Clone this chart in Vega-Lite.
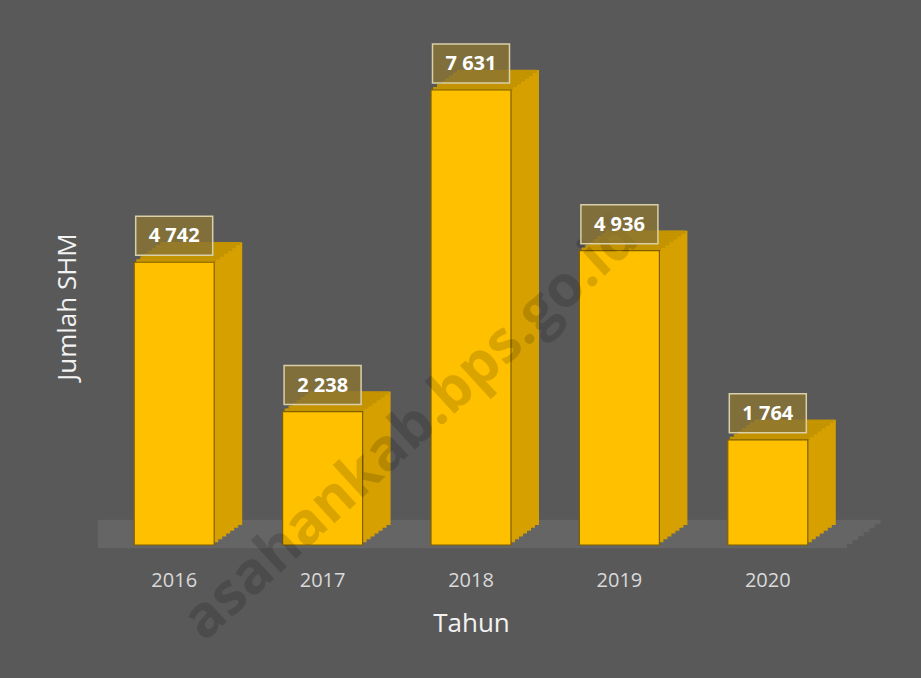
{
  "$schema": "https://vega.github.io/schema/vega-lite/v6.json",
  "width": 742,
  "height": 477,
  "autosize": "none",
  "padding": {"left": 100, "top": 68, "right": 79, "bottom": 133},
  "background": "#595959",
  "config": {
    "view": {"stroke": null},
    "font": "Open Sans",
    "locale": {"number": {"decimal": ",", "thousands": " ", "grouping": [3], "currency": ["", ""]}},
    "scale": {"bandPaddingInner": 0.461, "bandPaddingOuter": 0.2305},
    "axisX": {"domain": false, "ticks": false, "grid": false, "labelAngle": 0, "labelColor": "#d9d9d9", "labelFontSize": 20, "labelPadding": 25, "titleColor": "#f2f2f2", "titleFontSize": 26, "titleFontWeight": "normal", "titlePadding": 20},
    "axisY": {"domain": false, "ticks": false, "grid": false, "labels": false, "titleColor": "#f2f2f2", "titleFontSize": 26, "titleFontWeight": "normal", "titlePadding": 20}
  },
  "data": {"values": [
    {"Tahun": "2016", "Jumlah SHM": 4742},
    {"Tahun": "2017", "Jumlah SHM": 2238},
    {"Tahun": "2018", "Jumlah SHM": 7631},
    {"Tahun": "2019", "Jumlah SHM": 4936},
    {"Tahun": "2020", "Jumlah SHM": 1764}
  ]},
  "layer": [
    {"data": {"values": [{}]}, "mark": {"type": "rule", "color": "#656565", "strokeWidth": 4.3, "strokeCap": "square", "xOffset": 36.4, "yOffset": -23}, "encoding": {"y": {"datum": 0, "scale": {"domain": [0, 8000]}}}},
    {"data": {"values": [{}]}, "mark": {"type": "rule", "color": "#656565", "strokeWidth": 4.3, "strokeCap": "square", "xOffset": 30.8, "yOffset": -19}, "encoding": {"y": {"datum": 0}}},
    {"data": {"values": [{}]}, "mark": {"type": "rule", "color": "#656565", "strokeWidth": 4.3, "strokeCap": "square", "xOffset": 25.2, "yOffset": -15}, "encoding": {"y": {"datum": 0}}},
    {"data": {"values": [{}]}, "mark": {"type": "rule", "color": "#656565", "strokeWidth": 4.3, "strokeCap": "square", "xOffset": 19.6, "yOffset": -11}, "encoding": {"y": {"datum": 0}}},
    {"data": {"values": [{}]}, "mark": {"type": "rule", "color": "#656565", "strokeWidth": 4.3, "strokeCap": "square", "xOffset": 14, "yOffset": -7}, "encoding": {"y": {"datum": 0}}},
    {"data": {"values": [{}]}, "mark": {"type": "rule", "color": "#656565", "strokeWidth": 4.3, "strokeCap": "square", "xOffset": 8.4, "yOffset": -3}, "encoding": {"y": {"datum": 0}}},
    {"data": {"values": [{}]}, "mark": {"type": "rule", "color": "#656565", "strokeWidth": 4.3, "strokeCap": "square", "xOffset": 2.8, "yOffset": 1}, "encoding": {"y": {"datum": 0}}},

    {"mark": {"type": "bar", "size": 80, "color": "#D6A000", "xOffset": 28, "yOffset": -20}, "encoding": {"x": {"field": "Tahun", "type": "ordinal"}, "y": {"field": "Jumlah SHM", "type": "quantitative", "scale": {"domain": [0, 8000]}}}},
    {"mark": {"type": "bar", "size": 80, "color": "#D6A000", "xOffset": 24, "yOffset": -17.14}, "encoding": {"x": {"field": "Tahun", "type": "ordinal"}, "y": {"field": "Jumlah SHM", "type": "quantitative"}}},
    {"mark": {"type": "bar", "size": 80, "color": "#D6A000", "xOffset": 20, "yOffset": -14.29}, "encoding": {"x": {"field": "Tahun", "type": "ordinal"}, "y": {"field": "Jumlah SHM", "type": "quantitative"}}},
    {"mark": {"type": "bar", "size": 80, "color": "#D6A000", "xOffset": 16, "yOffset": -11.43}, "encoding": {"x": {"field": "Tahun", "type": "ordinal"}, "y": {"field": "Jumlah SHM", "type": "quantitative"}}},
    {"mark": {"type": "bar", "size": 80, "color": "#D6A000", "xOffset": 12, "yOffset": -8.57}, "encoding": {"x": {"field": "Tahun", "type": "ordinal"}, "y": {"field": "Jumlah SHM", "type": "quantitative"}}},
    {"mark": {"type": "bar", "size": 80, "color": "#D6A000", "xOffset": 8, "yOffset": -5.71}, "encoding": {"x": {"field": "Tahun", "type": "ordinal"}, "y": {"field": "Jumlah SHM", "type": "quantitative"}}},
    {"mark": {"type": "bar", "size": 80, "color": "#D6A000", "xOffset": 4, "yOffset": -2.86}, "encoding": {"x": {"field": "Tahun", "type": "ordinal"}, "y": {"field": "Jumlah SHM", "type": "quantitative"}}},

    {"mark": {"type": "tick", "size": 80, "thickness": 3.2, "opacity": 1, "color": "#C39300", "xOffset": 26, "yOffset": -18.57}, "encoding": {"x": {"field": "Tahun", "type": "ordinal"}, "y": {"field": "Jumlah SHM", "type": "quantitative"}}},
    {"mark": {"type": "tick", "size": 80, "thickness": 3.2, "opacity": 1, "color": "#C39300", "xOffset": 22, "yOffset": -15.71}, "encoding": {"x": {"field": "Tahun", "type": "ordinal"}, "y": {"field": "Jumlah SHM", "type": "quantitative"}}},
    {"mark": {"type": "tick", "size": 80, "thickness": 3.2, "opacity": 1, "color": "#C39300", "xOffset": 18, "yOffset": -12.86}, "encoding": {"x": {"field": "Tahun", "type": "ordinal"}, "y": {"field": "Jumlah SHM", "type": "quantitative"}}},
    {"mark": {"type": "tick", "size": 80, "thickness": 3.2, "opacity": 1, "color": "#C39300", "xOffset": 14, "yOffset": -10}, "encoding": {"x": {"field": "Tahun", "type": "ordinal"}, "y": {"field": "Jumlah SHM", "type": "quantitative"}}},
    {"mark": {"type": "tick", "size": 80, "thickness": 3.2, "opacity": 1, "color": "#C39300", "xOffset": 10, "yOffset": -7.14}, "encoding": {"x": {"field": "Tahun", "type": "ordinal"}, "y": {"field": "Jumlah SHM", "type": "quantitative"}}},
    {"mark": {"type": "tick", "size": 80, "thickness": 3.2, "opacity": 1, "color": "#C39300", "xOffset": 6, "yOffset": -4.29}, "encoding": {"x": {"field": "Tahun", "type": "ordinal"}, "y": {"field": "Jumlah SHM", "type": "quantitative"}}},
    {"mark": {"type": "tick", "size": 80, "thickness": 3.2, "opacity": 1, "color": "#C39300", "xOffset": 2, "yOffset": -1.43}, "encoding": {"x": {"field": "Tahun", "type": "ordinal"}, "y": {"field": "Jumlah SHM", "type": "quantitative"}}},

    {"mark": {"type": "bar", "size": 80, "color": "#FFC000", "stroke": "#7F6000", "strokeWidth": 1.2}, "encoding": {"x": {"field": "Tahun", "type": "ordinal"}, "y": {"field": "Jumlah SHM", "type": "quantitative"}}},

    {"data": {"values": [{}]}, "mark": {"type": "text", "text": "asahankab.bps.go.id", "angle": -42.5, "align": "right", "baseline": "alphabetic", "fontSize": 58, "fontWeight": "bold", "fill": "#000000", "fillOpacity": 0.15, "opacity": 1, "xOffset": 22}, "encoding": {"x": {"datum": "2019", "type": "ordinal"}, "y": {"datum": 5080, "type": "quantitative"}}},

    {"mark": {"type": "point", "shape": "M-1,-0.506L1,-0.506L1,0.506L-1,0.506Z", "size": 5929, "filled": true, "fill": "#8a7433", "fillOpacity": 0.8, "stroke": "#d9cfa8", "strokeWidth": 1.5, "strokeOpacity": 1, "opacity": 1, "yOffset": -26.5}, "encoding": {"x": {"field": "Tahun", "type": "ordinal"}, "y": {"field": "Jumlah SHM", "type": "quantitative"}}},
    {"mark": {"type": "text", "fontSize": 20, "fontWeight": "bold", "color": "#ffffff", "baseline": "middle", "align": "center", "yOffset": -26}, "encoding": {"x": {"field": "Tahun", "type": "ordinal"}, "y": {"field": "Jumlah SHM", "type": "quantitative"}, "text": {"field": "Jumlah SHM", "type": "quantitative", "format": ",d"}}}
  ]
}
